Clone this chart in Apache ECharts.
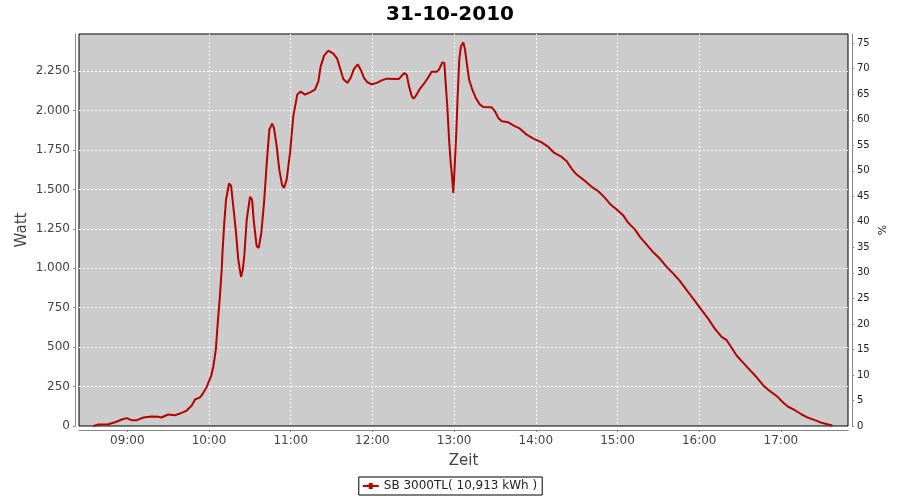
<!DOCTYPE html>
<html>
<head>
<meta charset="utf-8">
<script src="https://cdn.jsdelivr.net/npm/echarts@6/dist/echarts.min.js"></script>
<style>html,body{margin:0;padding:0;background:#fff;}#c{width:900px;height:500px;}</style>
</head>
<body>
<div id="c"></div>
<script>
// Minutes since midnight
const times = [515,518.7,526,531,536,539.6,543,547,551.8,558,562.8,565,570,575,580,583.6,587.3,589.7,593.4,595.8,598.3,601.5,603.2,605,606.4,608,609.3,610,611.2,612.5,614.7,616.2,617.8,619.6,621.5,623.5,624.8,626,627.7,630.1,631.6,633,635,636.5,638.4,640.4,642.4,644.3,646.3,647.7,649.7,651.6,653.6,655.1,657,659.5,661.9,664.8,667.3,670.5,674.2,677.8,680.3,682,684.5,687.6,691.3,694.2,696.2,698.6,701.6,704,706.5,709.2,711.4,713.8,716.3,719.5,723.2,726.8,730.5,737.8,739.5,743.4,745.2,746.9,748.9,750.3,752.5,755,758.6,761,763.5,767.2,768.9,771.3,772.8,773.8,775,776.3,777.5,778.5,779.4,780.2,781.4,782.6,783.8,785,786.8,788,789.3,791,793.4,795.9,799,801.4,807.6,810,812.5,815,819.8,823.5,828.4,833.3,838.2,844.3,849.2,853.6,859,862.7,866.4,870,874.9,881,885.9,890.8,894.5,899.4,904.3,907.9,912.9,916.5,921.4,926.3,931.2,936.1,941,945.9,950.8,955.7,960.6,966.7,971.6,976.5,980.2,983.8,987.5,992.4,997.3,1002.2,1007.1,1012,1017.6,1021.8,1025.4,1030.3,1035.3,1040.1,1045,1050,1054.8,1057.8];
const watts = [0,9,11,24,41,50,37,37,54,60,58,54,73,68,83,98,130,168,181,210,248,316,379,485,654,823,992,1118,1288,1435,1537,1524,1393,1245,1055,945,990,1090,1309,1452,1435,1288,1139,1129,1224,1414,1668,1879,1917,1890,1773,1625,1530,1509,1562,1731,1963,2101,2120,2101,2115,2132,2185,2280,2348,2380,2361,2327,2270,2200,2175,2207,2264,2293,2259,2207,2179,2166,2175,2191,2202,2200,2200,2238,2227,2153,2090,2075,2101,2139,2179,2210,2246,2246,2259,2305,2302,2175,2027,1816,1668,1583,1478,1605,1816,2090,2322,2407,2432,2386,2302,2196,2132,2080,2037,2023,2020,1995,1953,1932,1925,1906,1885,1847,1822,1798,1769,1731,1706,1678,1630,1594,1562,1516,1488,1446,1408,1372,1334,1288,1245,1199,1150,1101,1060,1009,966,918,861,806,749,679,616,565,544,496,447,400,354,309,257,221,185,147,122,100,73,52,37,20,10,3];
const hourTicks = [540,600,660,720,780,840,900,960,1020];
const title = '31-10-2010';
const seriesName = 'SB 3000TL( 10,913 kWh )';

const font = 'DejaVu Sans';
const data = times.map((t, i) => [t, watts[i]]);
const fmtTime = v => { const h = Math.floor(v / 60), m = Math.round(v % 60); return String(h).padStart(2,'0') + ':' + String(m).padStart(2,'0'); };
const fmtWatt = v => String(v).replace(/\B(?=(\d{3})+(?!\d))/g, '.');
const gridLine = { show: true, showMinLine: false, showMaxLine: false, lineStyle: { color: '#ffffff', type: [2, 2], width: 1 } };

const chart = echarts.init(document.getElementById('c'), null, { renderer: 'canvas' });
chart.setOption({
  animation: false,
  backgroundColor: '#ffffff',
  title: { text: title, left: 'center', top: 0, textStyle: { fontFamily: font, fontSize: 20, fontWeight: 'bold', color: '#000' } },
  legend: {
    data: [seriesName], left: 'center', top: 477, itemWidth: 16, itemHeight: 6, itemGap: 4,
    icon: 'path://M0,4 L16,4 L16,6 L0,6 Z M6,2 L10,2 L10,8 L6,8 Z',
    padding: [3, 5, 3, 4], borderColor: '#000', borderWidth: 1, backgroundColor: '#fff',
    textStyle: { fontFamily: font, fontSize: 12, color: '#222', padding: [0,0,0,0] }
  },
  grid: { left: 79, right: 52, top: 34, bottom: 74, show: true, backgroundColor: '#cccccc', borderColor: '#000', borderWidth: 1, outerBoundsMode: 'none', containLabel: false },
  xAxis: {
    type: 'value', min: 504.5, max: 1069.3, offset: 4,
    name: 'Zeit', nameLocation: 'middle', nameGap: 24, nameMoveOverlap: false, nameTextStyle: { fontFamily: font, fontSize: 15, color: '#444' },
    axisLine: { show: true, onZero: false, lineStyle: { color: '#888', width: 1 } },
    axisTick: { show: true, length: 2, customValues: hourTicks, lineStyle: { color: '#888' } },
    axisLabel: { customValues: hourTicks, formatter: fmtTime, fontFamily: font, fontSize: 12, color: '#444', margin: 5 },
    splitLine: Object.assign({ customValues: hourTicks }, gridLine)
  },
  yAxis: [
    {
      type: 'value', min: 0, max: 2485, interval: 250, position: 'left', offset: 4,
      name: 'Watt', nameLocation: 'middle', nameGap: 45, nameRotate: 90, nameMoveOverlap: false, nameTextStyle: { fontFamily: font, fontSize: 15, color: '#444' },
      axisLine: { show: true, lineStyle: { color: '#888', width: 1 } },
      axisTick: { show: true, length: 2, lineStyle: { color: '#888' } },
      axisLabel: { formatter: fmtWatt, showMaxLabel: false, fontFamily: font, fontSize: 12, color: '#444', margin: 5 },
      splitLine: gridLine
    },
    {
      type: 'value', min: 0, max: 76.8, interval: 5, position: 'right', offset: 4,
      name: '%', nameLocation: 'middle', nameGap: 26, nameRotate: 90, nameMoveOverlap: false, nameTextStyle: { fontFamily: font, fontSize: 11, color: '#222' },
      axisLine: { show: true, lineStyle: { color: '#888', width: 1 } },
      axisTick: { show: true, length: 2, lineStyle: { color: '#888' } },
      axisLabel: { showMaxLabel: false, fontFamily: font, fontSize: 10, color: '#222', margin: 5 },
      splitLine: { show: false }
    }
  ],
  series: [{
    name: seriesName, type: 'line', yAxisIndex: 0, data: data, showSymbol: false, symbol: 'none',
    lineStyle: { color: '#b40000', width: 2 }, itemStyle: { color: '#b40000' }
  }]
});
</script>
</body>
</html>
